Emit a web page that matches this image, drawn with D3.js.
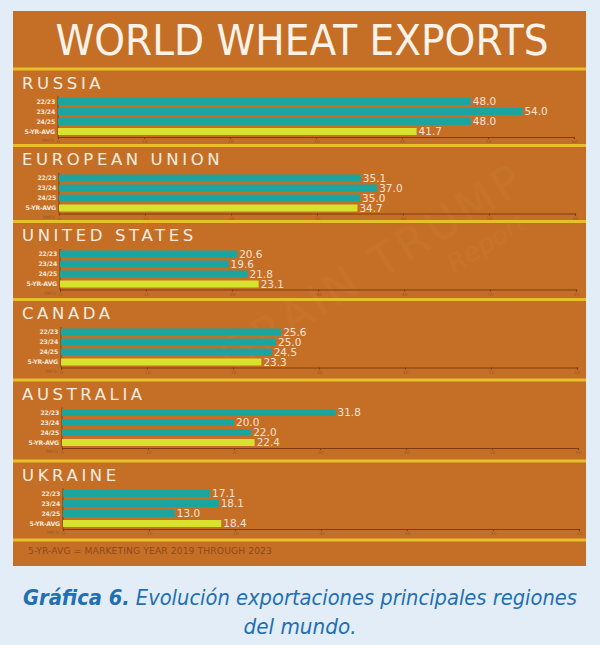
<html>
<meta charset="utf-8">
<head>
  <title>World wheat exports</title>
</head>

<style>
body { margin: 0; background: #e2edf8; }
text { font-family: "DejaVu Sans", sans-serif; }
</style>

<body>
  <div id="content">
    <svg width="600" height="645"></svg>
  </div>

<script src="https://d3js.org/d3.v7.min.js"></script>
  <script>
// data (million metric tons)
var regions = ["RUSSIA", "EUROPEAN UNION", "UNITED STATES", "CANADA", "AUSTRALIA", "UKRAINE"]
var years = ["22/23", "23/24", "24/25", "5-YR-AVG"]
var v2223 = [48.0, 35.1, 20.6, 25.6, 31.8, 17.1]
var v2324 = [54.0, 37.0, 19.6, 25.0, 20.0, 18.1]
var v2425 = [48.0, 35.0, 21.8, 24.5, 22.0, 13.0]
var avg5 = [41.7, 34.7, 23.1, 23.3, 22.4, 18.4]
var ticks = [0, 10, 20, 30, 40, 50, 60]

// layout: top edge of each panel (the photo is slightly uneven)
var tops = [69, 145.5, 221.5, 299.5, 380, 461]
var footTop = 540

var svg = d3.select('svg')
svg.append('rect').attr('width', 600).attr('height', 645).attr('fill', '#e2edf8')
svg.append('rect').attr('x', 13).attr('y', 11).attr('width', 573).attr('height', 555)
  .attr('fill', '#c56f26')

// faint watermark
var wm = svg.append('g').attr('transform', 'translate(380,280) rotate(-32)')
  .attr('fill', '#ffffff').attr('opacity', 0.025)
wm.append('text').attr('text-anchor', 'middle').attr('font-size', 44)
  .attr('letter-spacing', 4).text('GRAIN TRUMP')
wm.append('text').attr('x', 110).attr('y', 34).attr('text-anchor', 'middle')
  .attr('font-size', 26).attr('font-style', 'italic').text('Report')

svg.append('text')
  .attr('x', 302).attr('y', 55)
  .attr('text-anchor', 'middle')
  .attr('font-family', 'Lato, sans-serif').attr('font-weight', 400)
  .attr('font-size', 43)
  .attr('textLength', 493).attr('lengthAdjust', 'spacingAndGlyphs')
  .attr('fill', '#fbf3ea')
  .text('WORLD WHEAT EXPORTS')

// yellow separator lines
tops.concat([footTop]).forEach(function(t) {
  svg.append('rect').attr('x', 13).attr('y', t - 1.5).attr('width', 573).attr('height', 3)
    .attr('fill', '#e6bf2a')
})

var y = d3.scaleBand().domain(years).range([27.5, 67.5]).paddingInner(0.3).paddingOuter(0.15)
var color = d3.scaleOrdinal().domain(years).range(['#1ba59e', '#1ba59e', '#1ba59e', '#d6e22c'])

regions.forEach(function(name, i) {
  var x0 = 58 + i
  var x = d3.scaleLinear().domain([0, 60]).range([x0, x0 + 516])
  var g = svg.append('g').attr('transform', 'translate(0,' + tops[i] + ')')

  g.append('text')
    .attr('x', 22).attr('y', 19.5)
    .attr('font-size', 16.5).attr('letter-spacing', 3.6)
    .attr('fill', '#f8ece0')
    .text(name)

  var rows = years.map(function(yr, j) {
    return {year: yr, value: [v2223, v2324, v2425, avg5][j][i]}
  })

  var axisY = y.range()[1] + 0.5
  var axis = g.append('g')
    .attr('transform', 'translate(0,' + axisY + ')')
    .call(d3.axisBottom(x).tickValues(ticks).tickSize(2).tickPadding(1))
  axis.select('.domain').attr('stroke', '#7a3c12').attr('stroke-width', 1.2)
  axis.selectAll('.tick line').attr('stroke', '#7a3c12')
  axis.selectAll('.tick text').attr('fill', '#9a5a2a').attr('font-size', 4.5)
    .attr('font-family', 'DejaVu Sans, sans-serif')
  g.append('text')
    .attr('x', x0 - 4).attr('y', axisY + 5)
    .attr('text-anchor', 'end').attr('font-size', 4.5).attr('fill', '#9a5a2a')
    .text('MMTs')

  g.append('line')
    .attr('x1', x0).attr('x2', x0)
    .attr('y1', y.range()[0]).attr('y2', axisY)
    .attr('stroke', '#7a3c12').attr('stroke-width', 1)

  g.selectAll('rect.bar')
    .data(rows)
    .enter()
    .append('rect')
    .attr('class', 'bar')
    .attr('x', x0)
    .attr('y', function(d) { return y(d.year) })
    .attr('width', function(d) { return x(d.value) - x0 })
    .attr('height', y.bandwidth())
    .attr('fill', function(d) { return color(d.year) })

  g.selectAll('text.cat')
    .data(rows)
    .enter()
    .append('text')
    .attr('class', 'cat')
    .attr('x', x0 - 3)
    .attr('y', function(d) { return y(d.year) + y.bandwidth() / 2 })
    .attr('dy', '0.35em')
    .attr('text-anchor', 'end')
    .attr('font-size', 6.2).attr('font-weight', 'bold')
    .attr('letter-spacing', -0.2)
    .attr('fill', '#f6e6da')
    .text(function(d) { return d.year })

  g.selectAll('text.val')
    .data(rows)
    .enter()
    .append('text')
    .attr('class', 'val')
    .attr('x', function(d) { return x(d.value) + 2 })
    .attr('y', function(d) { return y(d.year) + y.bandwidth() / 2 })
    .attr('dy', '0.36em')
    .attr('font-size', 10.5)
    .attr('fill', '#f6e2d6')
    .text(function(d) { return d.value.toFixed(1) })
})

svg.append('text')
  .attr('x', 28).attr('y', 553.5)
  .attr('font-size', 8.6).attr('letter-spacing', 0.1)
  .attr('fill', '#8d4a1c')
  .attr('textLength', 244).attr('lengthAdjust', 'spacingAndGlyphs')
  .text('5-YR-AVG = MARKETING YEAR 2019 THROUGH 2023')

// caption
var cap = svg.append('text')
  .attr('x', 300).attr('y', 605)
  .attr('text-anchor', 'middle')
  .attr('font-family', '"Open Sans", sans-serif').attr('font-style', 'italic')
  .attr('font-size', 21).attr('fill', '#1f6fb2')
  .attr('textLength', 554).attr('lengthAdjust', 'spacingAndGlyphs')
cap.append('tspan').attr('font-weight', 'bold').text('Gráfica 6.')
cap.append('tspan').text(' Evolución exportaciones principales regiones')
svg.append('text')
  .attr('x', 300).attr('y', 634)
  .attr('text-anchor', 'middle')
  .attr('font-family', '"Open Sans", sans-serif').attr('font-style', 'italic')
  .attr('font-size', 21).attr('fill', '#1f6fb2')
  .attr('textLength', 113).attr('lengthAdjust', 'spacingAndGlyphs')
  .text('del mundo.')
  </script>
</body>
</html>
